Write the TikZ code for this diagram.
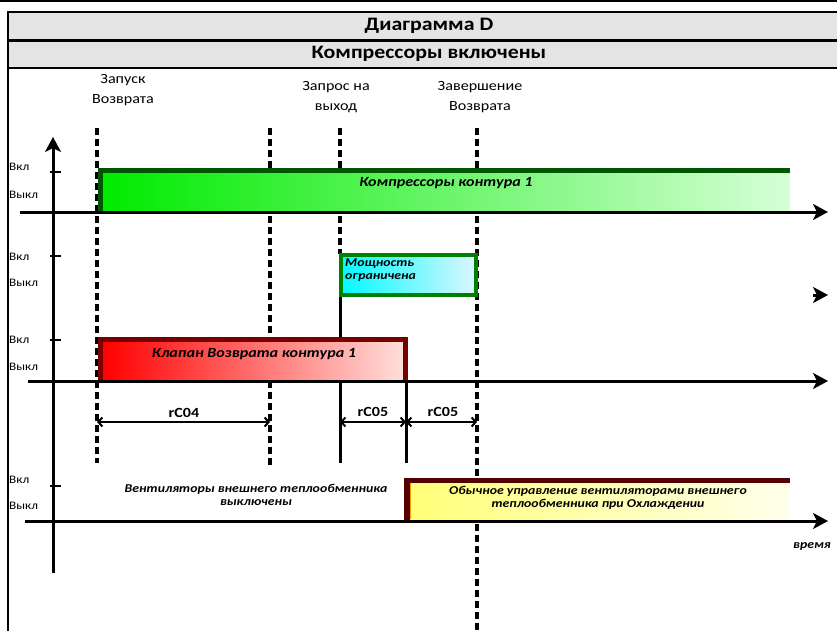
\documentclass[tikz,border=0pt]{standalone}
\usepackage{fontspec}
\setmainfont{Carlito}[FakeStretch=1.15]
\usetikzlibrary{arrows.meta}

\definecolor{hdrgray}{RGB}{228,228,228}
\definecolor{cmpedge}{RGB}{0,85,0}
\definecolor{cmpL}{RGB}{0,235,0}
\definecolor{cmpR}{RGB}{215,255,215}
\definecolor{capedge}{RGB}{0,128,0}
\definecolor{capL}{RGB}{0,250,255}
\definecolor{capR}{RGB}{220,246,255}
\definecolor{vlvedge}{RGB}{120,0,0}
\definecolor{vlvL}{RGB}{255,0,0}
\definecolor{vlvR}{RGB}{255,222,218}
\definecolor{fanedge}{RGB}{85,0,0}
\definecolor{fanL}{RGB}{255,255,120}
\definecolor{fanR}{RGB}{255,255,236}

\begin{document}
\begin{tikzpicture}[x=1pt,y=-1pt,
  axis/.style={line width=3pt,-{Stealth[length=15pt,width=16pt,inset=4pt]}},
  marker/.style={line width=3.2pt,dash pattern=on 7pt off 4pt},
  solidmark/.style={line width=3pt},
  tick/.style={line width=2pt},
  dim/.style={line width=2pt,{Straight Barb[length=4pt,width=9pt]}-{Straight Barb[length=4pt,width=9pt]}},
  lvl/.style={anchor=west,inner sep=0pt,font=\fontsize{11.5}{12}\selectfont},
  evt/.style={align=center,inner sep=0pt,font=\fontsize{14}{20}\selectfont},
  bar/.style={inner sep=0pt,font=\fontsize{14}{16}\selectfont\bfseries\itshape},
  note/.style={align=center,inner sep=0pt,font=\fontsize{12}{12.8}\selectfont\bfseries\itshape},
  tmr/.style={inner sep=0pt,font=\fontsize{14}{16}\selectfont\bfseries},
  hdr/.style={inner sep=0pt,font=\fontsize{19}{20}\selectfont\bfseries}]
  \useasboundingbox (0,0) rectangle (837,631);

  % header
  \draw[line width=2pt] (0,1) -- (837,1);
  \fill[hdrgray] (8,12) rectangle (837,68);
  \draw[line width=2.5pt] (8,12) -- (837,12) (8,40.5) -- (837,40.5) (8,68) -- (837,68);
  \draw[line width=2pt] (8,11) -- (8,631);
  \node[hdr] (title) at (429,26) {Диаграмма D};
  \node[hdr] (state) at (429,54) {Компрессоры включены};

  % events
  \node[evt] (start) at (123,90) {Запуск\\Возврата};
  \node[evt] (req) at (336,97) {Запрос на\\выход};
  \node[evt] (done) at (480,97) {Завершение\\Возврата};

  \draw[marker] (97,128) -- (97,463);
  \draw[marker] (270,128) -- (270,465);
  \draw[marker] (340,128) -- (340,254);
  \draw[marker] (477,128) -- (477,631);
  \draw[solidmark] (340,296) -- (340,463);
  \draw[solidmark] (406,380) -- (406,463);

  % compressors
  \shade[left color=cmpL,right color=cmpR] (103,172) rectangle (790,210);
  \draw[line width=5pt,cmpedge] (100,212) -- (100,170.5) -- (790,170.5);
  \node[bar] (cmp) at (446,183) {Компрессоры контура 1};

  % capacity limit
  \shade[left color=capL,right color=capR] (340.5,255) rectangle (475.5,295);
  \draw[line width=4pt,capedge] (340.5,255) rectangle (475.5,295);
  \node[note,align=left,anchor=north west,font=\fontsize{12}{13}\selectfont\bfseries\itshape]
    (cap) at (345,259) {Мощность\\ограничена};

  % reversing valve
  \shade[left color=vlvL,right color=vlvR] (103,342) rectangle (403,380);
  \draw[line width=5pt,vlvedge] (100.5,381) -- (100.5,339.5) -- (405.5,339.5) -- (405.5,381);
  \node[bar] (vlv) at (254,354) {Клапан Возврата контура 1};

  % fans
  \node[note] (fanoff) at (256,495) {Вентиляторы внешнего теплообменника\\выключены};
  \shade[left color=fanL,right color=fanR] (410,483) rectangle (790,519);
  \draw[line width=1pt,orange!80!yellow] (410.5,483) -- (410.5,519);
  \draw[line width=5.5pt,fanedge] (407,521) -- (407,480.5) -- (790,480.5);
  \node[note] (fanon) at (598,498) {Обычное управление вентиляторами внешнего\\теплообменника при Охлаждении};

  % axes
  \draw[axis] (53,573) -- (53,137);
  \draw[axis] (20,212) -- (828,212);
  \draw[axis] (813,295) -- (828,295);
  \draw[axis] (28,381) -- (828,381);
  \draw[axis] (25,521) -- (828,521);
  \foreach \t in {172,256,340,486}
    \draw[tick] (50,\t) -- (61,\t);
  \foreach \on/\off [count=\i] in {167/195,257/283,340/367,480/506}{
    \node[lvl] (on\i) at (9,\on) {Вкл};
    \node[lvl] (off\i) at (9,\off) {Выкл};
  }
  \node[note] (time) at (812,546) {время};

  % timers
  \coordinate (a0) at (97,422);
  \coordinate (a1) at (270,422);
  \coordinate (b0) at (340,422);
  \coordinate (b1) at (406,422);
  \coordinate (c1) at (477,422);
  \draw[dim] (a0) -- (a1);
  \draw[dim] (b0) -- (b1);
  \draw[dim] (b1) -- (c1);
  \node[tmr] (rc04) at (184,413) {rC04};
  \node[tmr] (rc05a) at (373,412) {rC05};
  \node[tmr] (rc05b) at (443,412) {rC05};
\end{tikzpicture}
\end{document}
